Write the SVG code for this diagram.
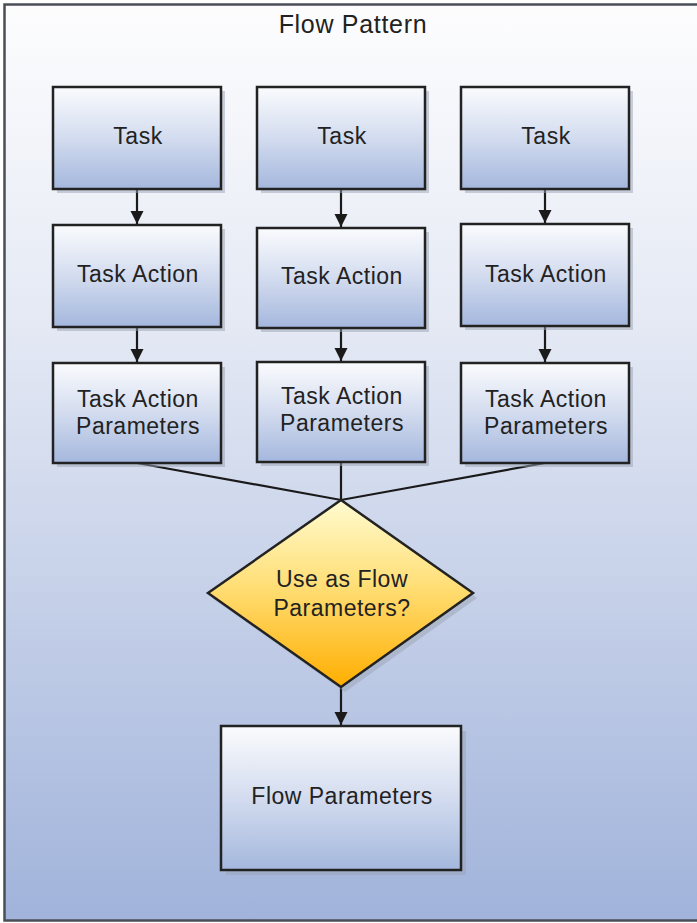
<svg xmlns="http://www.w3.org/2000/svg" width="697" height="923" viewBox="0 0 697 923">
<defs>
<linearGradient id="bg" x1="0" y1="0" x2="0" y2="1">
<stop offset="0" stop-color="#fdfdfe"/>
<stop offset="0.35" stop-color="#e4e9f4"/>
<stop offset="1" stop-color="#a1b3db"/>
</linearGradient>
<linearGradient id="box" x1="0" y1="0" x2="0" y2="1">
<stop offset="0" stop-color="#fafbfd"/>
<stop offset="0.5" stop-color="#d3dcef"/>
<stop offset="1" stop-color="#a4b7dd"/>
</linearGradient>
<linearGradient id="dia" x1="0" y1="0" x2="0" y2="1">
<stop offset="0" stop-color="#fffbd0"/>
<stop offset="0.45" stop-color="#ffdf78"/>
<stop offset="1" stop-color="#ffae00"/>
</linearGradient>
<marker id="arr" markerWidth="13" markerHeight="14" refX="12" refY="6" orient="auto" markerUnits="userSpaceOnUse" viewBox="0 0 12 12">
<path d="M0,0 L12,6 L0,12 Z" fill="#1a1a1a"/>
</marker>
<style>
.node{fill:url(#box);stroke:#222;stroke-width:2.5}
.sh{fill:#9aa3b4;opacity:0.5}
.t{font-family:"Liberation Sans",Arial,sans-serif;font-size:23px;fill:#222;text-anchor:middle;letter-spacing:0.5px}
.c{fill:none;stroke:#1a1a1a;stroke-width:2.2}
</style>
</defs>

<g id="frame">
<rect x="4.5" y="4.5" width="700" height="916" fill="url(#bg)" stroke="#4a4e57" stroke-width="2.5"/>
<text x="353" y="33" style="font-family:'Liberation Sans',Arial,sans-serif;font-size:25px;fill:#222;text-anchor:middle;letter-spacing:0.7px">Flow Pattern</text>
</g>

<g id="connectors">
<line class="c" x1="137" y1="189" x2="137" y2="224" marker-end="url(#arr)"/>
<line class="c" x1="341" y1="189" x2="341" y2="227" marker-end="url(#arr)"/>
<line class="c" x1="545" y1="189" x2="545" y2="223" marker-end="url(#arr)"/>
<line class="c" x1="137" y1="327" x2="137" y2="362" marker-end="url(#arr)"/>
<line class="c" x1="341" y1="328" x2="341" y2="361" marker-end="url(#arr)"/>
<line class="c" x1="545" y1="326" x2="545" y2="362" marker-end="url(#arr)"/>
<polyline class="c" points="137,463 341,500 545,463"/>
<line class="c" x1="341" y1="462" x2="341" y2="500"/>
<line class="c" x1="341" y1="687" x2="341" y2="725" marker-end="url(#arr)"/>
</g>

<g id="task1"><rect class="sh" x="57" y="91" width="168" height="102"/><rect class="node" x="53" y="87" width="168" height="102"/><text class="t" x="138" y="144">Task</text></g>
<g id="task2"><rect class="sh" x="261" y="91" width="168" height="102"/><rect class="node" x="257" y="87" width="168" height="102"/><text class="t" x="342" y="144">Task</text></g>
<g id="task3"><rect class="sh" x="465" y="91" width="168" height="102"/><rect class="node" x="461" y="87" width="168" height="102"/><text class="t" x="546" y="144">Task</text></g>

<g id="action1"><rect class="sh" x="57" y="229" width="168" height="102"/><rect class="node" x="53" y="225" width="168" height="102"/><text class="t" x="138" y="282">Task Action</text></g>
<g id="action2"><rect class="sh" x="261" y="232" width="168" height="100"/><rect class="node" x="257" y="228" width="168" height="100"/><text class="t" x="342" y="284">Task Action</text></g>
<g id="action3"><rect class="sh" x="465" y="228" width="168" height="102"/><rect class="node" x="461" y="224" width="168" height="102"/><text class="t" x="546" y="282">Task Action</text></g>

<g id="params1"><rect class="sh" x="57" y="367" width="168" height="100"/><rect class="node" x="53" y="363" width="168" height="100"/><text class="t" x="138" y="407">Task Action</text><text class="t" x="138" y="434">Parameters</text></g>
<g id="params2"><rect class="sh" x="261" y="366" width="168" height="100"/><rect class="node" x="257" y="362" width="168" height="100"/><text class="t" x="342" y="404">Task Action</text><text class="t" x="342" y="431">Parameters</text></g>
<g id="params3"><rect class="sh" x="465" y="367" width="168" height="100"/><rect class="node" x="461" y="363" width="168" height="100"/><text class="t" x="546" y="407">Task Action</text><text class="t" x="546" y="434">Parameters</text></g>

<g id="decision">
<polygon points="345,505 477,598 345,692 212,598" fill="#9aa3b4" opacity="0.5"/>
<polygon points="341,500 473,593 341,687 208,593" fill="url(#dia)" stroke="#222" stroke-width="2.5" stroke-linejoin="miter"/>
<text class="t" x="342" y="587">Use as Flow</text>
<text class="t" x="342" y="616">Parameters?</text>
</g>

<g id="flowparams"><rect class="sh" x="226" y="731" width="240" height="144"/><rect class="node" x="221" y="726" width="240" height="144"/><text class="t" x="342" y="804">Flow Parameters</text></g>
</svg>
